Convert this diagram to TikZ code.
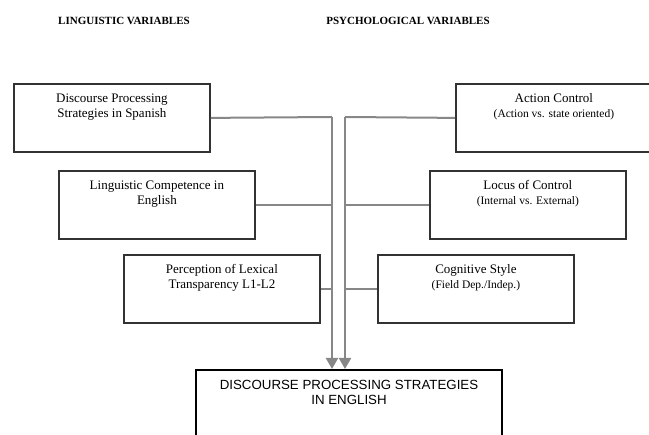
\documentclass[tikz,border=0pt]{standalone}
\usepackage{fontspec}
\setmainfont{Liberation Serif}
\newfontfamily\boxsans{Liberation Sans}
\usepackage{tikz}
\usetikzlibrary{arrows.meta}

\definecolor{linkgray}{RGB}{135,135,135}
\definecolor{framegray}{RGB}{50,50,50}

\tikzset{
    varbox/.style={draw=framegray, line width=1.8pt, anchor=north west,
        minimum width=196pt, minimum height=68pt, inner sep=0pt},
    vartext/.style={anchor=north, align=center, inner sep=0pt, yshift=-10.5pt,
        font=\fontsize{13}{15}\selectfont},
    link/.style={draw=linkgray, line width=2pt},
    feed/.style={link, -{Triangle[length=11pt,width=12pt]}}
}
\newcommand{\subline}[1]{{\fontsize{11.5}{13}\selectfont #1}}

\begin{document}
\begin{tikzpicture}[x=1pt, y=-1pt]
    \clip (0,0) rectangle (649,435);

    \node[font=\bfseries\fontsize{11}{13}\selectfont] (ling) at (124,21) {LINGUISTIC VARIABLES};
    \node[font=\bfseries\fontsize{11}{13}\selectfont] (psych) at (408,21) {PSYCHOLOGICAL VARIABLES};

    % linguistic side
    \node[varbox, label={[vartext]north:Discourse Processing\\Strategies in Spanish}] (dps) at (13,83) {};
    \node[varbox, label={[vartext]north:Linguistic Competence in\\English}] (comp) at (58,170) {};
    \node[varbox, label={[vartext]north:Perception of Lexical\\Transparency L1-L2}] (lex) at (123,254) {};

    % psychological side
    \node[varbox, label={[vartext]north:Action Control\\\subline{(Action vs. state oriented)}}] (act) at (455,83) {};
    \node[varbox, label={[vartext]north:Locus of Control\\\subline{(Internal vs. External)}}] (loc) at (429,170) {};
    \node[varbox, label={[vartext]north:Cognitive Style\\\subline{(Field Dep./Indep.)}}] (cog) at (377,254) {};

    \node[draw=black, line width=2pt, anchor=north west, minimum width=306pt,
        minimum height=110pt, inner sep=0pt,
        label={[anchor=north, align=center, inner sep=0pt, yshift=-11.5pt,
            font=\boxsans\fontsize{13.3}{15}\selectfont]north:DISCOURSE PROCESSING STRATEGIES\\IN ENGLISH}] (eng) at (195,369) {};

    \coordinate (jl) at (332,117);
    \coordinate (jr) at (345,117);

    \draw[link] (dps.east) -- (jl);
    \draw[link] (comp.east) -- (comp.east -| jl);
    \draw[link] (lex.east) -- (lex.east -| jl);
    \draw[link] (act.west) -- (jr);
    \draw[link] (loc.west) -- (loc.west -| jr);
    \draw[link] (cog.west) -- (cog.west -| jr);
    \draw[feed] (jl) -- (jl |- eng.north);
    \draw[feed] (jr) -- (jr |- eng.north);
\end{tikzpicture}
\end{document}
